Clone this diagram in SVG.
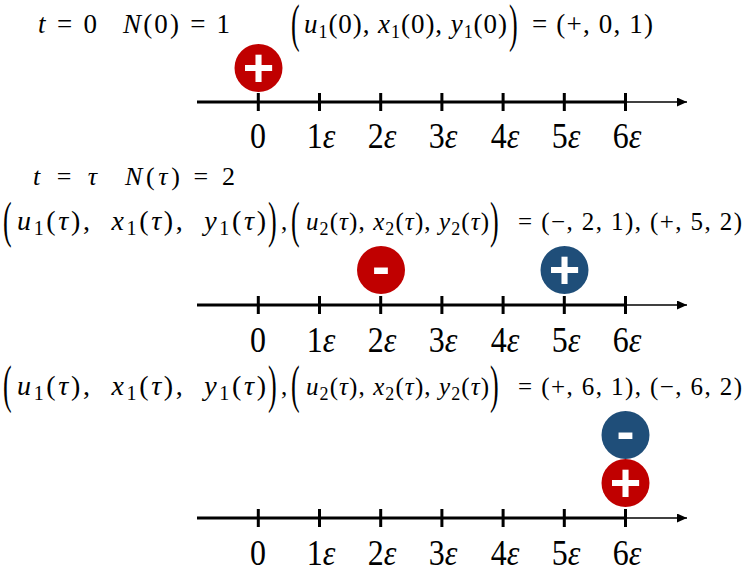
<svg xmlns="http://www.w3.org/2000/svg" width="747" height="575" viewBox="0 0 747 575">
<defs>
<style>
.m{font-family:"Liberation Serif","DejaVu Serif",serif;fill:#000}
.i{font-style:italic}
.s{font-size:18px}
.s2{font-size:20px}
.g1{font-size:28px}
.big{font-family:"Liberation Serif","DejaVu Serif",serif;font-size:26px;fill:#000}
.lab{font-family:"Liberation Serif","DejaVu Serif",serif;font-size:32px;fill:#000;text-anchor:middle}
.sg{font-family:"Liberation Sans","Arial",sans-serif;font-weight:bold;font-size:54px;fill:#fff;text-anchor:middle}
.red{fill:#C00000}
.blue{fill:#1F4E79}
.ax{stroke:#000;stroke-width:3;fill:none}
.tip{stroke:#000;stroke-width:1.5;fill:none}
.tk{stroke:#000;stroke-width:3}
</style>
<marker id="arr" markerUnits="userSpaceOnUse" markerWidth="11" markerHeight="9" refX="10" refY="4.5" orient="auto">
<path d="M0,0 L10,4.5 L0,9 z" fill="#000"/>
</marker>
</defs>
<rect width="747" height="575" fill="#fff"/>

<!-- Section 1 texts -->
<g id="head1" class="m" font-size="27">
<text x="38" y="33" textLength="59"><tspan class="i">t</tspan> = 0</text>
<text x="123" y="33" textLength="107"><tspan class="i">N</tspan>(0) = 1</text>
<text class="big" transform="translate(291,40.5) scale(1,2.05)">(</text>
<text x="304" y="33" textLength="203"><tspan class="i">u</tspan><tspan class="s" dy="5">1</tspan><tspan dy="-5">(0), </tspan><tspan class="i">x</tspan><tspan class="s" dy="5">1</tspan><tspan dy="-5">(0), </tspan><tspan class="i">y</tspan><tspan class="s" dy="5">1</tspan><tspan dy="-5">(0)</tspan></text>
<text class="big" transform="translate(509,40.5) scale(1,2.05)">)</text>
<text x="532" y="33" textLength="121">= (+, 0, 1)</text>
</g>

<!-- Section 2 texts -->
<g id="head2" class="m" font-size="26">
<text x="33" y="185" textLength="64"><tspan class="i">t</tspan> = <tspan class="i">τ</tspan></text>
<text x="125" y="185" textLength="110"><tspan class="i">N</tspan>(<tspan class="i">τ</tspan>) = 2</text>
</g>
<g id="formula2" class="m" font-size="25">
<text class="big" transform="translate(3,237) scale(1,1.95)">(</text>
<text class="g1" x="17" y="230" textLength="249"><tspan class="i">u</tspan><tspan class="s2" dy="5">1</tspan><tspan dy="-5">(</tspan><tspan class="i">τ</tspan>), <tspan class="i" dx="9">x</tspan><tspan class="s2" dy="5">1</tspan><tspan dy="-5">(</tspan><tspan class="i">τ</tspan>), <tspan class="i" dx="9">y</tspan><tspan class="s2" dy="5">1</tspan><tspan dy="-5">(</tspan><tspan class="i">τ</tspan>)</text>
<text class="big" transform="translate(268,237) scale(1,1.95)">)</text>
<text x="281" y="230">,</text>
<text class="big" transform="translate(291,237) scale(1,1.95)">(</text>
<text x="306" y="230" textLength="183"><tspan class="i">u</tspan><tspan class="s" dy="5">2</tspan><tspan dy="-5">(</tspan><tspan class="i">τ</tspan>), <tspan class="i">x</tspan><tspan class="s" dy="5">2</tspan><tspan dy="-5">(</tspan><tspan class="i">τ</tspan>), <tspan class="i">y</tspan><tspan class="s" dy="5">2</tspan><tspan dy="-5">(</tspan><tspan class="i">τ</tspan>)</text>
<text class="big" transform="translate(490,237) scale(1,1.95)">)</text>
<text x="518" y="230" textLength="224">= (−, 2, 1), (+, 5, 2)</text>
</g>

<!-- Section 3 texts -->
<g id="formula3" class="m" font-size="25">
<text class="big" transform="translate(3,402) scale(1,2.05)">(</text>
<text class="g1" x="17" y="395" textLength="249"><tspan class="i">u</tspan><tspan class="s2" dy="5">1</tspan><tspan dy="-5">(</tspan><tspan class="i">τ</tspan>), <tspan class="i" dx="9">x</tspan><tspan class="s2" dy="5">1</tspan><tspan dy="-5">(</tspan><tspan class="i">τ</tspan>), <tspan class="i" dx="9">y</tspan><tspan class="s2" dy="5">1</tspan><tspan dy="-5">(</tspan><tspan class="i">τ</tspan>)</text>
<text class="big" transform="translate(268,402) scale(1,2.05)">)</text>
<text x="281" y="395">,</text>
<text class="big" transform="translate(291,402) scale(1,2.05)">(</text>
<text x="306" y="395" textLength="183"><tspan class="i">u</tspan><tspan class="s" dy="5">2</tspan><tspan dy="-5">(</tspan><tspan class="i">τ</tspan>), <tspan class="i">x</tspan><tspan class="s" dy="5">2</tspan><tspan dy="-5">(</tspan><tspan class="i">τ</tspan>), <tspan class="i">y</tspan><tspan class="s" dy="5">2</tspan><tspan dy="-5">(</tspan><tspan class="i">τ</tspan>)</text>
<text class="big" transform="translate(490,402) scale(1,2.05)">)</text>
<text x="518" y="395" textLength="224">= (+, 6, 1), (−, 6, 2)</text>
</g>

<!-- Axes (connectors) -->
<g id="connectors">
<g id="axis1">
<line class="ax" x1="197" y1="102" x2="627" y2="102"/>
<line class="tip" x1="626" y1="102" x2="687" y2="102" marker-end="url(#arr)"/>
<path class="tk" d="M258.3,93V111M319.5,93V111M380.7,93V111M441.9,93V111M503.1,93V111M564.3,93V111M625.5,93V111"/>
</g>
<g id="axis2">
<line class="ax" x1="197" y1="305" x2="627" y2="305"/>
<line class="tip" x1="626" y1="305" x2="687" y2="305" marker-end="url(#arr)"/>
<path class="tk" d="M258.3,296V314M319.5,296V314M380.7,296V314M441.9,296V314M503.1,296V314M564.3,296V314M625.5,296V314"/>
</g>
<g id="axis3">
<line class="ax" x1="197" y1="518" x2="627" y2="518"/>
<line class="tip" x1="626" y1="518" x2="687" y2="518" marker-end="url(#arr)"/>
<path class="tk" d="M258.3,509V527M319.5,509V527M380.7,509V527M441.9,509V527M503.1,509V527M564.3,509V527M625.5,509V527"/>
</g>
</g>

<!-- Axis labels -->
<g id="labels1">
<text class="lab" transform="translate(258,148) scale(1,1.12)">0</text>
<text class="lab" transform="translate(321,148) scale(1,1.12)">1<tspan class="i">ε</tspan></text>
<text class="lab" transform="translate(382,148) scale(1,1.12)">2<tspan class="i">ε</tspan></text>
<text class="lab" transform="translate(443,148) scale(1,1.12)">3<tspan class="i">ε</tspan></text>
<text class="lab" transform="translate(505,148) scale(1,1.12)">4<tspan class="i">ε</tspan></text>
<text class="lab" transform="translate(566,148) scale(1,1.12)">5<tspan class="i">ε</tspan></text>
<text class="lab" transform="translate(627,148) scale(1,1.12)">6<tspan class="i">ε</tspan></text>
</g>
<g id="labels2">
<text class="lab" transform="translate(258,352) scale(1,1.12)">0</text>
<text class="lab" transform="translate(321,352) scale(1,1.12)">1<tspan class="i">ε</tspan></text>
<text class="lab" transform="translate(382,352) scale(1,1.12)">2<tspan class="i">ε</tspan></text>
<text class="lab" transform="translate(443,352) scale(1,1.12)">3<tspan class="i">ε</tspan></text>
<text class="lab" transform="translate(505,352) scale(1,1.12)">4<tspan class="i">ε</tspan></text>
<text class="lab" transform="translate(566,352) scale(1,1.12)">5<tspan class="i">ε</tspan></text>
<text class="lab" transform="translate(627,352) scale(1,1.12)">6<tspan class="i">ε</tspan></text>
</g>
<g id="labels3">
<text class="lab" transform="translate(258,565) scale(1,1.12)">0</text>
<text class="lab" transform="translate(321,565) scale(1,1.12)">1<tspan class="i">ε</tspan></text>
<text class="lab" transform="translate(382,565) scale(1,1.12)">2<tspan class="i">ε</tspan></text>
<text class="lab" transform="translate(443,565) scale(1,1.12)">3<tspan class="i">ε</tspan></text>
<text class="lab" transform="translate(505,565) scale(1,1.12)">4<tspan class="i">ε</tspan></text>
<text class="lab" transform="translate(566,565) scale(1,1.12)">5<tspan class="i">ε</tspan></text>
<text class="lab" transform="translate(627,565) scale(1,1.12)">6<tspan class="i">ε</tspan></text>
</g>

<!-- Particles (nodes) -->
<g id="p1-plus"><circle class="red" cx="258.5" cy="68" r="24"/><text class="sg" x="258.5" y="86">+</text></g>
<g id="p2-minus"><circle class="red" cx="381" cy="270" r="24"/><text class="sg" x="381" y="285">-</text></g>
<g id="p2-plus"><circle class="blue" cx="564.5" cy="270" r="24"/><text class="sg" x="564.5" y="288">+</text></g>
<g id="p3-minus"><circle class="blue" cx="625.5" cy="435" r="24"/><text class="sg" x="625.5" y="450">-</text></g>
<g id="p3-plus"><circle class="red" cx="625.5" cy="483" r="24"/><text class="sg" x="625.5" y="501">+</text></g>
</svg>
